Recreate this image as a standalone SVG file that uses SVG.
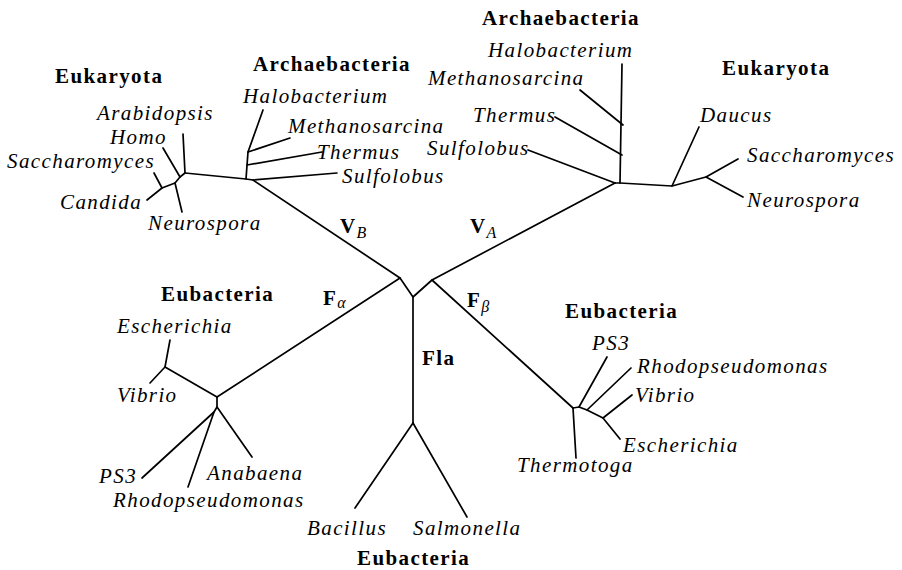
<svg xmlns="http://www.w3.org/2000/svg" width="902" height="570" viewBox="0 0 902 570">
<style>
  .br { fill: none; stroke: #000; stroke-width: 1.7; stroke-linecap: round; stroke-linejoin: round; }
  text { font-family: "Liberation Serif", "Times New Roman", serif; fill: #000; font-size: 21px; letter-spacing: 1.4px; }
  .sp { font-style: italic; }
  .grp { font-weight: bold; }
  .sub { font-style: italic; font-size: 16px; font-weight: normal; letter-spacing: 0; }
</style>
<rect width="902" height="570" fill="#fff"/>
<g id="connectors">
  <!-- central stems -->
  <path class="br" d="M253,180 L400,278 L413,297 L432,280 L615,183"/>
  <path class="br" d="M400,278 L217,397"/>
  <path class="br" d="M432,280 L573,408"/>
  <path class="br" d="M413,297 L413,423"/>
  <!-- left Archaea -->
  <path class="br" d="M185,173 L246,179 L253,180 L337,173"/>
  <path class="br" d="M246,179 L248,152 L263,110"/>
  <path class="br" d="M248,152 L290,138"/>
  <path class="br" d="M247,165 L322,152"/>
  <!-- left Eukaryota -->
  <path class="br" d="M185,173 L183,134"/>
  <path class="br" d="M185,173 L180,177 L163,148"/>
  <path class="br" d="M180,177 L175,183 L182,212"/>
  <path class="br" d="M175,183 L162,188 L154,173"/>
  <path class="br" d="M162,188 L147,200"/>
  <!-- right Archaea -->
  <path class="br" d="M615,183 L620,183 L622,64"/>
  <path class="br" d="M580,90 L623,125"/>
  <path class="br" d="M555,117 L622,155"/>
  <path class="br" d="M528,150 L615,183"/>
  <!-- right Eukaryota -->
  <path class="br" d="M620,183 L672,186 L699,127"/>
  <path class="br" d="M672,186 L706,177 L738,159"/>
  <path class="br" d="M706,177 L743,197"/>
  <!-- left Eubacteria -->
  <path class="br" d="M217,397 L165,367 L170,340"/>
  <path class="br" d="M165,367 L150,383"/>
  <path class="br" d="M217,397 L217,407 L252,457"/>
  <path class="br" d="M217,407 L214,412 L142,478"/>
  <path class="br" d="M214,412 L188,487"/>
  <!-- bottom Eubacteria -->
  <path class="br" d="M413,423 L355,508"/>
  <path class="br" d="M413,423 L467,517"/>
  <!-- right Eubacteria -->
  <path class="br" d="M573,408 L576,458"/>
  <path class="br" d="M573,408 L579,407 L607,357"/>
  <path class="br" d="M579,407 L587,410 L631,368"/>
  <path class="br" d="M587,410 L603,418 L632,395"/>
  <path class="br" d="M603,418 L620,439"/>
</g>
<g id="branch-labels">
  <text id="VB" class="grp" x="340" y="233">V<tspan class="sub" dy="5">B</tspan></text>
  <text id="VA" class="grp" x="470" y="233">V<tspan class="sub" dy="5">A</tspan></text>
  <text id="Falpha" class="grp" x="323" y="305">F<tspan class="sub" dy="3">α</tspan></text>
  <text id="Fbeta" class="grp" x="467" y="307">F<tspan class="sub" dy="5">β</tspan></text>
  <text id="Fla" class="grp" x="422" y="365">Fla</text>
</g>
<g id="left-eukaryota">
  <text class="grp" x="55" y="83">Eukaryota</text>
  <text class="sp" x="97" y="120">Arabidopsis</text>
  <text class="sp" x="110" y="144">Homo</text>
  <text class="sp" x="7" y="168">Saccharomyces</text>
  <text class="sp" x="60" y="209">Candida</text>
  <text class="sp" x="148" y="230">Neurospora</text>
</g>
<g id="left-archaebacteria">
  <text class="grp" x="253" y="71">Archaebacteria</text>
  <text class="sp" x="243" y="103">Halobacterium</text>
  <text class="sp" x="288" y="133">Methanosarcina</text>
  <text class="sp" x="317" y="159">Thermus</text>
  <text class="sp" x="342" y="183">Sulfolobus</text>
</g>
<g id="right-archaebacteria">
  <text class="grp" x="482" y="25">Archaebacteria</text>
  <text class="sp" x="488" y="57">Halobacterium</text>
  <text class="sp" x="428" y="85">Methanosarcina</text>
  <text class="sp" x="473" y="122">Thermus</text>
  <text class="sp" x="427" y="155">Sulfolobus</text>
</g>
<g id="right-eukaryota">
  <text class="grp" x="722" y="75">Eukaryota</text>
  <text class="sp" x="700" y="122">Daucus</text>
  <text class="sp" x="747" y="162">Saccharomyces</text>
  <text class="sp" x="747" y="207">Neurospora</text>
</g>
<g id="left-eubacteria">
  <text class="grp" x="161" y="301">Eubacteria</text>
  <text class="sp" x="117" y="333">Escherichia</text>
  <text class="sp" x="117" y="402">Vibrio</text>
  <text class="sp" x="99" y="483">PS3</text>
  <text class="sp" x="207" y="480">Anabaena</text>
  <text class="sp" x="113" y="507">Rhodopseudomonas</text>
</g>
<g id="bottom-eubacteria">
  <text class="sp" x="307" y="535">Bacillus</text>
  <text class="sp" x="413" y="535">Salmonella</text>
  <text class="grp" x="357" y="565">Eubacteria</text>
</g>
<g id="right-eubacteria">
  <text class="grp" x="565" y="318">Eubacteria</text>
  <text class="sp" x="592" y="350">PS3</text>
  <text class="sp" x="637" y="373">Rhodopseudomonas</text>
  <text class="sp" x="635" y="402">Vibrio</text>
  <text class="sp" x="623" y="452">Escherichia</text>
  <text class="sp" x="517" y="472">Thermotoga</text>
</g>
</svg>
